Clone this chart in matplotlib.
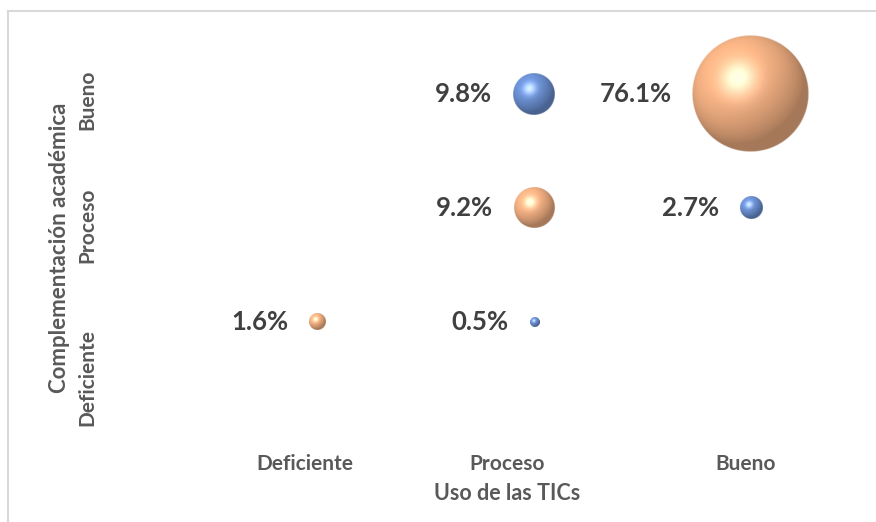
import matplotlib.pyplot as plt
import numpy as np
from matplotlib.lines import Line2D

# data
categories = ['Deficiente', 'Proceso', 'Bueno']
orange_x = [1, 2, 3]
orange_y = [1, 2, 3]
orange_val = [1.6, 9.2, 76.1]
blue_x = [2, 3, 2]
blue_y = [1, 2, 3]
blue_val = [0.5, 2.7, 9.8]

x_title = 'Uso de las TICs'
y_title = 'Complementación académica'

W, H = 876, 522
DPI = 100
fig = plt.figure(figsize=(W / DPI, H / DPI), dpi=DPI)

# axes placement (pixels)
ax_l, ax_r, ax_t, ax_b = 101.5, 831, 25.6, 436
ax = fig.add_axes([ax_l / W, 1 - ax_b / H, (ax_r - ax_l) / W, (ax_b - ax_t) / H])
xlim = (0, 3.37)
ylim = (0, 3.6)
ax.set_xlim(*xlim)
ax.set_ylim(*ylim)
px_x = (ax_r - ax_l) / (xlim[1] - xlim[0])
px_y = (ax_b - ax_t) / (ylim[1] - ylim[0])

MAX_D = 117  # diameter in px of largest bubble
vmax = max(orange_val + blue_val)

label_font = dict(family=['Lato', 'DejaVu Sans'], fontweight='bold')


def sphere_rgba(base, n=256):
    base = np.array(base) / 255.0
    u = np.linspace(-1, 1, n)
    uu, vv = np.meshgrid(u, u)
    r2 = uu ** 2 + vv ** 2
    nz = np.sqrt(np.clip(1 - r2, 0, 1))
    L = np.array([-0.4, 0.5, 0.77])
    L = L / np.linalg.norm(L)
    diff = np.clip(uu * L[0] + vv * L[1] + nz * L[2], 0, 1)
    Hv = L + np.array([0, 0, 1.0])
    Hv = Hv / np.linalg.norm(Hv)
    spec = np.clip(uu * Hv[0] + vv * Hv[1] + nz * Hv[2], 0, 1) ** 20
    rgb = base[None, None, :] * (0.68 + 0.4 * diff[..., None])
    rgb = rgb + spec[..., None] * 0.5 * (1 - base[None, None, :] * 0.5)
    rgb = np.clip(rgb, 0, 1)
    r = np.sqrt(r2)
    alpha = np.clip((1 - r) * n / 2.5, 0, 1)
    return np.dstack([rgb, alpha])


def draw_series(xs, ys, vals, base):
    img = sphere_rgba(base)
    for x, y, v in zip(xs, ys, vals):
        d = MAX_D * np.sqrt(v / vmax)
        dx = d / px_x / 2
        dy = d / px_y / 2
        ax.imshow(img, extent=[x - dx, x + dx, y - dy, y + dy], origin='lower',
                  interpolation='bilinear', zorder=2, aspect='auto')
        ax.annotate(f'{v:.1f}%', (x, y), xytext=(-(d / 2 + 21) * 0.72, 0),
                    textcoords='offset points', ha='right', va='center',
                    fontsize=18.5, color='#404040', zorder=3, **label_font)


draw_series(orange_x, orange_y, orange_val, (244, 177, 131))
draw_series(blue_x, blue_y, blue_val, (108, 145, 212))

ax.set_xlim(*xlim)
ax.set_ylim(*ylim)

# tick labels
ax.set_xticks([0.94, 1.873, 2.977])
ax.set_xticklabels(categories)
ax.set_yticks([0.509, 1.851, 2.947])
ax.set_yticklabels(categories, rotation=90, va='center')
ax.tick_params(axis='x', length=0, pad=13, labelsize=15, labelcolor='#595959')
ax.tick_params(axis='y', length=0, pad=3, labelsize=15, labelcolor='#595959')
for lab in ax.get_xticklabels() + ax.get_yticklabels():
    lab.set_family(['Lato', 'DejaVu Sans'])
    lab.set_fontweight('bold')
for s in ax.spines.values():
    s.set_visible(False)
ax.patch.set_alpha(0)

# axis titles
fig.text(507 / W, 1 - 493 / H, x_title, ha='center', va='center',
         fontsize=15.5, color='#595959', **label_font)
fig.text(60 / W, 1 - 248 / H, y_title, ha='center', va='center', rotation=90,
         fontsize=16, color='#595959', **label_font)

# chart border
bc = '#D9D9D9'
fig.add_artist(Line2D([8 / W, 8 / W], [0, 1 - 11 / H], transform=fig.transFigure,
                      color=bc, lw=1.5))
fig.add_artist(Line2D([8 / W, 1], [1 - 11 / H, 1 - 11 / H], transform=fig.transFigure,
                      color=bc, lw=1.5))

fig.savefig('out.png', dpi=DPI)
